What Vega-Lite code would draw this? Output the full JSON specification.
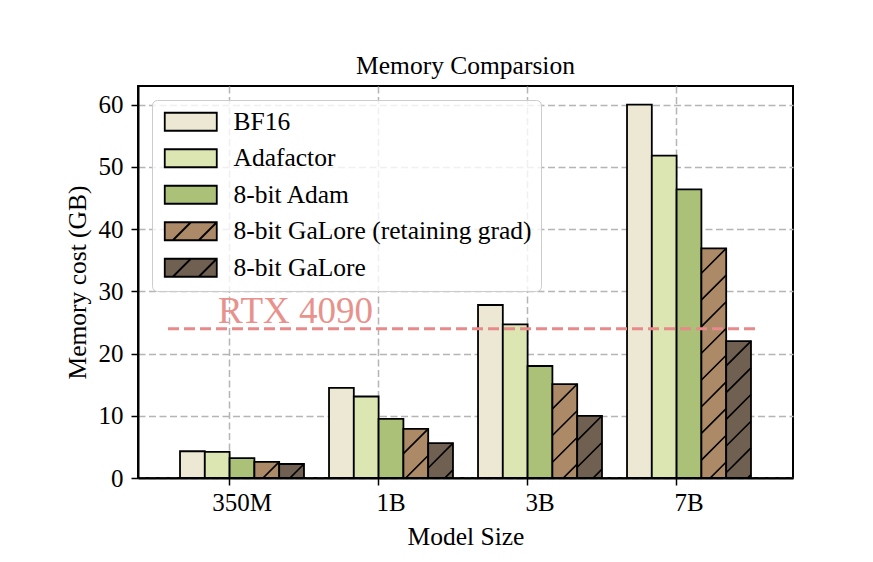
{
  "$schema": "https://vega.github.io/schema/vega-lite/v6.json",
  "width": 655,
  "height": 392,
  "autosize": {"type": "none"},
  "padding": {"left": 138, "top": 86, "right": 80, "bottom": 84},
  "background": "white",
  "title": {"text": "Memory Comparsion", "font": "Liberation Serif", "fontSize": 25.5, "fontWeight": "normal", "color": "black", "offset": 7, "anchor": "middle"},
  "datasets": {
    "mem": [
      {"model": "350M", "method": "BF16", "value": 4.3},
      {"model": "350M", "method": "Adafactor", "value": 4.2},
      {"model": "350M", "method": "8-bit Adam", "value": 3.2},
      {"model": "350M", "method": "8-bit GaLore (retaining grad)", "value": 2.6},
      {"model": "350M", "method": "8-bit GaLore", "value": 2.25},
      {"model": "1B", "method": "BF16", "value": 14.5},
      {"model": "1B", "method": "Adafactor", "value": 13.1},
      {"model": "1B", "method": "8-bit Adam", "value": 9.5},
      {"model": "1B", "method": "8-bit GaLore (retaining grad)", "value": 7.9},
      {"model": "1B", "method": "8-bit GaLore", "value": 5.6},
      {"model": "3B", "method": "BF16", "value": 27.8},
      {"model": "3B", "method": "Adafactor", "value": 24.7},
      {"model": "3B", "method": "8-bit Adam", "value": 18.0},
      {"model": "3B", "method": "8-bit GaLore (retaining grad)", "value": 15.1},
      {"model": "3B", "method": "8-bit GaLore", "value": 10.0},
      {"model": "7B", "method": "BF16", "value": 60},
      {"model": "7B", "method": "Adafactor", "value": 51.8},
      {"model": "7B", "method": "8-bit Adam", "value": 46.4},
      {"model": "7B", "method": "8-bit GaLore (retaining grad)", "value": 36.9},
      {"model": "7B", "method": "8-bit GaLore", "value": 22.0}
    ],
    "rtx": [
      {"xs": -0.416, "xe": 3.557, "lx": 0.44, "value": 24, "label": "RTX 4090"}
    ]
  },
  "layer": [
    {
      "data": {"name": "mem"},
      "layer": [
        {
          "mark": {"type": "bar", "stroke": "black", "strokeWidth": 1.8, "opacity": 1},
          "encoding": {
            "x": {"field": "model", "type": "nominal", "scale": {"domain": ["350M", "1B", "3B", "7B"], "paddingInner": 0.168, "paddingOuter": 0.282}, "title": "Model Size", "axis": {"grid": true, "bandPosition": 0.4, "labelAngle": 0}},
            "xOffset": {"field": "method", "type": "nominal", "scale": {"domain": ["BF16", "Adafactor", "8-bit Adam", "8-bit GaLore (retaining grad)", "8-bit GaLore"], "paddingInner": 0, "paddingOuter": 0}},
            "y": {"field": "value", "type": "quantitative", "scale": {"domain": [0, 63], "nice": false}, "title": "Memory cost (GB)", "axis": {"values": [0, 10, 20, 30, 40, 50, 60]}},
            "color": {"field": "method", "type": "nominal", "scale": {"domain": ["BF16", "Adafactor", "8-bit Adam", "8-bit GaLore (retaining grad)", "8-bit GaLore"], "range": ["#ede8d4", "#dce6b2", "#abc178", "#ac8967", "#706052"]}, "legend": {"title": null, "symbolStrokeColor": "black", "encode": {"symbols": {"update": {"stroke": {"value": "black"}, "strokeWidth": {"value": 1.8}}}}}}
          }
        },
        {
          "transform": [{"filter": {"field": "method", "oneOf": ["8-bit GaLore (retaining grad)", "8-bit GaLore"]}}],
          "mark": {"type": "point", "shape": "M-12.4,24.8L12.4,0M-12.4,51.5L12.4,26.7M-12.4,78.2L12.4,53.4M-12.4,104.9L12.4,80.1M-12.4,131.6L12.4,106.8M-12.4,158.3L12.4,133.5M-12.4,185L12.4,160.2M-12.4,211.7L12.4,186.9M-12.4,238.4L12.4,213.6M-12.4,265.1L12.4,240.3", "size": 4, "filled": false, "stroke": "black", "strokeWidth": 1.6, "opacity": 1, "clip": true},
          "encoding": {
            "x": {"field": "model", "type": "nominal", "scale": {"domain": ["350M", "1B", "3B", "7B"], "paddingInner": 0.168, "paddingOuter": 0.282}, "title": "Model Size"},
            "xOffset": {"field": "method", "type": "nominal", "scale": {"domain": ["BF16", "Adafactor", "8-bit Adam", "8-bit GaLore (retaining grad)", "8-bit GaLore"], "paddingInner": 0, "paddingOuter": 0}},
            "y": {"field": "value", "type": "quantitative", "scale": {"domain": [0, 63], "nice": false}, "title": "Memory cost (GB)"}
          }
        },
        {
          "transform": [{"filter": "false"}],
          "mark": {"type": "point", "filled": true, "stroke": "black", "strokeWidth": 1.8, "opacity": 1},
          "encoding": {
            "x": {"field": "model", "type": "nominal", "scale": {"domain": ["350M", "1B", "3B", "7B"], "paddingInner": 0.168, "paddingOuter": 0.282}, "title": "Model Size"},
            "xOffset": {"field": "method", "type": "nominal", "scale": {"domain": ["BF16", "Adafactor", "8-bit Adam", "8-bit GaLore (retaining grad)", "8-bit GaLore"], "paddingInner": 0, "paddingOuter": 0}},
            "y": {"field": "value", "type": "quantitative", "scale": {"domain": [0, 63], "nice": false}, "title": "Memory cost (GB)"},
            "color": {"field": "method", "type": "nominal", "scale": {"domain": ["BF16", "Adafactor", "8-bit Adam", "8-bit GaLore (retaining grad)", "8-bit GaLore"], "range": ["#ede8d4", "#dce6b2", "#abc178", "#ac8967", "#706052"]}, "legend": {"title": null, "symbolStrokeColor": "black", "encode": {"symbols": {"update": {"stroke": {"value": "black"}, "strokeWidth": {"value": 1.8}}}}}},
            "shape": {"field": "method", "type": "nominal", "scale": {"domain": ["BF16", "Adafactor", "8-bit Adam", "8-bit GaLore (retaining grad)", "8-bit GaLore"], "range": ["M-1,-1H4.78V1H-1Z", "M-1,-1H4.78V1H-1Z", "M-1,-1H4.78V1H-1Z", "M-1,-1H4.78V1H-1ZM-0.1,1L1.9,-1M2.78,1L4.78,-1", "M-1,-1H4.78V1H-1ZM-0.1,1L1.9,-1M2.78,1L4.78,-1"]}, "legend": {"title": null, "symbolStrokeColor": "black", "encode": {"symbols": {"update": {"stroke": {"value": "black"}, "strokeWidth": {"value": 1.8}}}}}}
          }
        }
      ]
    },
    {
      "data": {"name": "rtx"},
      "layer": [
        {
          "mark": {"type": "rule", "color": "#e8898a", "strokeWidth": 3, "strokeDash": [11, 5]},
          "encoding": {
            "x": {"field": "xs", "type": "quantitative", "scale": {"domain": [-0.6174, 3.7785], "nice": false, "zero": false}, "axis": null},
            "x2": {"field": "xe"},
            "y": {"field": "value", "type": "quantitative", "scale": {"domain": [0, 63], "nice": false}, "title": "Memory cost (GB)"}
          }
        },
        {
          "mark": {"type": "text", "font": "Liberation Serif", "fontSize": 37, "color": "#e8928d", "baseline": "alphabetic", "align": "center", "dy": -6},
          "encoding": {
            "x": {"field": "lx", "type": "quantitative", "scale": {"domain": [-0.6174, 3.7785], "nice": false, "zero": false}, "axis": null},
            "y": {"field": "value", "type": "quantitative", "scale": {"domain": [0, 63], "nice": false}, "title": "Memory cost (GB)"},
            "text": {"field": "label"}
          }
        }
      ]
    }
  ],
  "resolve": {"scale": {"x": "independent"}},
  "config": {
    "font": "Liberation Serif",
    "view": {"stroke": "black", "strokeWidth": 2},
    "axis": {
      "domainColor": "black", "domainWidth": 2,
      "tickColor": "black", "tickWidth": 1.5, "tickSize": 7,
      "labelFont": "Liberation Serif", "labelFontSize": 25, "labelColor": "black",
      "titleFont": "Liberation Serif", "titleFontSize": 25.5, "titleFontWeight": "normal", "titleColor": "black",
      "grid": true, "gridColor": "#b5b5b5", "gridDash": [7, 3.5], "gridWidth": 1.5
    },
    "axisX": {"labelPadding": 5, "titlePadding": 9},
    "axisY": {"labelPadding": 8, "titlePadding": 8},
    "legend": {
      "orient": "none", "legendX": 14, "legendY": 14,
      "fillColor": "rgba(255,255,255,0.8)", "strokeColor": "#cccccc", "cornerRadius": 5,
      "padding": 9, "labelFont": "Liberation Serif", "labelFontSize": 25.5, "labelColor": "black",
      "labelLimit": 500, "labelOffset": 47, "rowPadding": 9.5,
      "symbolSize": 324, "symbolStrokeColor": "black", "symbolStrokeWidth": 1.8, "symbolOpacity": 1
    }
  }
}
